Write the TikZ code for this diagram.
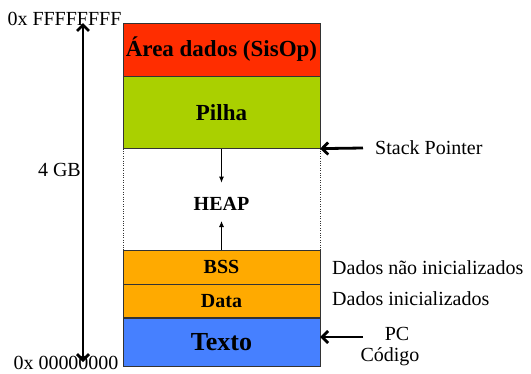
\documentclass[tikz,border=0pt]{standalone}
\usepackage{fontspec}
\setmainfont{Liberation Serif}
\usetikzlibrary{positioning}
\usetikzlibrary{arrows.meta}

\definecolor{sisopred}{RGB}{255,45,0}
\definecolor{pilhagreen}{RGB}{170,208,0}
\definecolor{dataorange}{RGB}{255,170,0}
\definecolor{textoblue}{RGB}{70,128,255}

\begin{document}
\begin{tikzpicture}[x=1pt,y=-1pt,
  block/.style={draw=black!80, thin, minimum width=197pt, inner sep=0pt,
    font=\bfseries\fontsize{20}{24}\selectfont},
  sidetext/.style={inner sep=0pt, font=\fontsize{20}{24}\selectfont},
  bigarrow/.style={line width=2.8pt, -{Straight Barb[length=6pt,width=12pt]}},
  memarrow/.style={line width=2.8pt,
    {Straight Barb[length=6pt,width=12pt]}-{Straight Barb[length=6pt,width=12pt]}},
  heaparrow/.style={line width=0.8pt, -{Latex[length=6pt,width=5pt]}}]
\useasboundingbox (0,0) rectangle (531,373);
%memory blocks
\node[block, fill=sisopred, minimum height=53pt,
  font=\bfseries\fontsize{23}{26}\selectfont] (area) at (221.5,49.5) {Área dados (SisOp)};
\node[block, fill=pilhagreen, minimum height=72pt, below=0pt of area,
  font=\bfseries\fontsize{23}{26}\selectfont] (pilha) {Pilha};
\node[minimum width=197pt, minimum height=101pt, inner sep=0pt, below=0pt of pilha] (heap) {};
\node[block, fill=dataorange, minimum height=34pt, below=0pt of heap] (bss) {BSS};
\node[block, fill=dataorange, minimum height=33pt, below=0pt of bss] (data) {Data};
\node[block, fill=textoblue, minimum height=48pt, below=0pt of data,
  font=\bfseries\fontsize{26}{30}\selectfont] (texto) {Texto};
%heap
\draw[black!80, thin, dotted] (pilha.south west) -- (bss.north west);
\draw[black!80, thin, dotted] (pilha.south east) -- (bss.north east);
\node[inner sep=0pt, font=\bfseries\fontsize{20}{24}\selectfont, yshift=-4.5pt] (heaptxt) at (heap.center) {HEAP};
\coordinate (stacktip) at ([yshift=-34pt]pilha.south);
\coordinate (heaptip) at ([yshift=29pt]bss.north);
\draw[heaparrow] (pilha.south) -- (stacktip);
\draw[heaparrow] (bss.north) -- (heaptip);
%address range
\coordinate (memtop) at (83,23);
\coordinate (membot) at (83,362);
\draw[memarrow] (membot) -- (memtop);
\node[sidetext] (hightxt) at (64.5,19) {0x FFFFFFFF};
\node[sidetext] (lowtxt) at (66,363) {0x 00000000};
\node[sidetext, anchor=east] (gbtxt) at (81,170) {4 GB};
%pointers
\coordinate (sptail) at (363,148);
\draw[bigarrow] (sptail) -- (pilha.south east);
\node[sidetext, anchor=west] (sptxt) at (375,148) {Stack Pointer};
\coordinate (pctail) at (363,337);
\draw[bigarrow] (pctail) -- (pctail -| texto.east);
\node[sidetext] (pctxt) at (397,334) {PC};
\node[sidetext] (codtxt) at (390,357) {Código};
%side notes
\node[sidetext, anchor=west] (bsstxt) at (332,268) {Dados não inicializados};
\node[sidetext, anchor=west] (datatxt) at (332,299) {Dados inicializados};
\end{tikzpicture}
\end{document}
